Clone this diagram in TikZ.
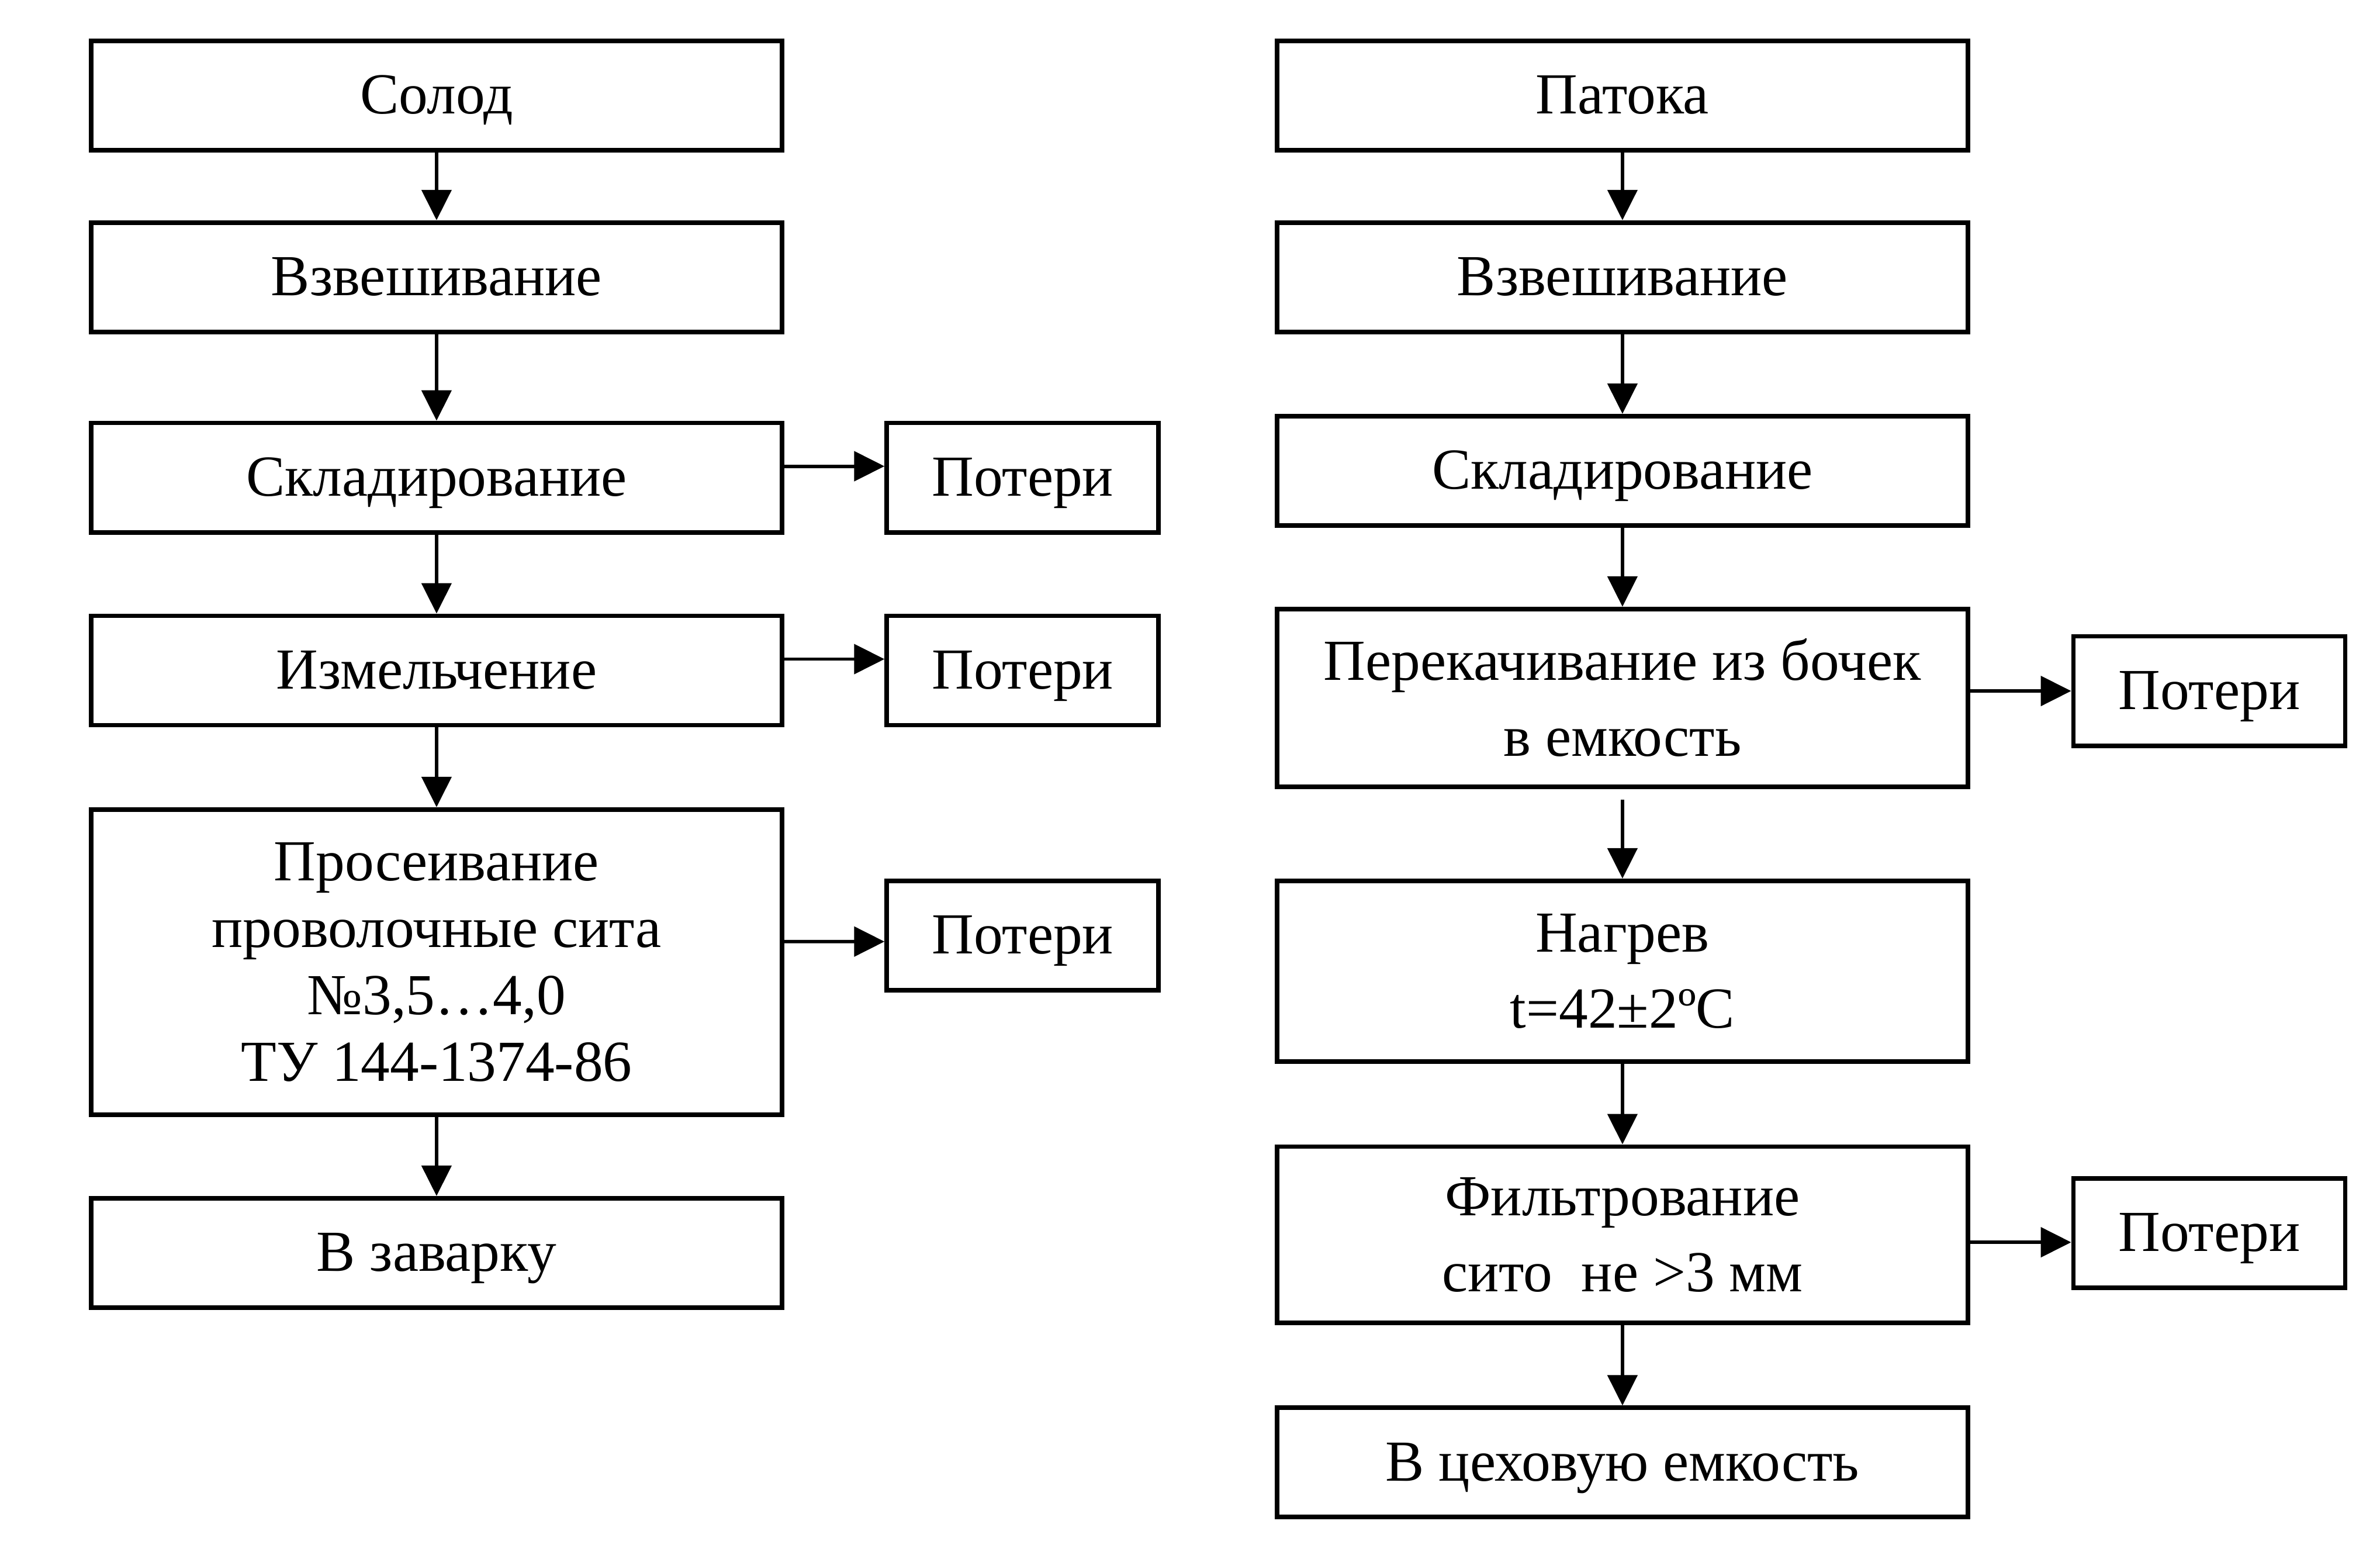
\documentclass[tikz,border=0pt]{standalone}
\usepackage{fontspec}
\setmainfont{Liberation Serif}
\usetikzlibrary{arrows.meta}

\begin{document}
\begin{tikzpicture}[x=0.4pt,y=-0.4pt,
    box/.style={draw, line width=1.2pt, minimum width=182pt, minimum height=28.8pt,
      inner sep=0pt, align=center, font=\fontsize{15.3}{20}\selectfont},
    oneline/.style={box, text height=10.4pt, text depth=0.8pt},
    loss/.style={oneline, minimum width=71.6pt},
    arr/.style={line width=0.9pt, -{Triangle[length=8pt,width=7.8pt]}}]
    \useasboundingbox (0,0) rectangle (1567.4,1021.6);

    % draw left column
    \node[oneline] (solod) at (287.5,63) {Солод};
    \node[oneline] (vzv1) at (287.5,182.5) {Взвешивание};
    \node[oneline] (skl1) at (287.5,314.5) {Складирование};
    \node[oneline] (izm) at (287.5,441.5) {Измельчение};
    \node[box, minimum height=80.4pt, font=\fontsize{15.3}{17.6}\selectfont] (pros) at (287.5,633.5)
      {Просеивание\\проволочные сита\\№3,5…4,0\\ТУ 144-1374-86};
    \node[oneline] (zav) at (287.5,825) {В заварку};

    % draw losses left
    \node[loss] (pot1) at (673.5,314.5) {Потери};
    \node[loss] (pot2) at (673.5,441.5) {Потери};
    \node[loss] (pot3) at (673.5,616) {Потери};

    % draw right column
    \node[oneline] (patoka) at (1068.5,63) {Патока};
    \node[oneline] (vzv2) at (1068.5,182.5) {Взвешивание};
    \node[oneline] (skl2) at (1068.5,310) {Складирование};
    \node[box, minimum height=46.8pt] (perek) at (1068.5,459.5) {Перекачивание из бочек\\в емкость};
    \node[box, minimum height=47.6pt] (nagr) at (1068.5,639.5) {Нагрев\\t=42±2ºC};
    \node[box, minimum height=46.4pt] (filtr) at (1068.5,813) {Фильтрование\\сито\ \ не >3 мм};
    \node[oneline] (ceh) at (1068.5,963) {В цеховую емкость};

    % draw losses right
    \node[loss] (pot4) at (1455,455) {Потери};
    \node[loss] (pot5) at (1455,812) {Потери};

    % draw vertical arrows
    \foreach \a/\b in {solod/vzv1, vzv1/skl1, skl1/izm, izm/pros, pros/zav,
                       patoka/vzv2, vzv2/skl2, skl2/perek, nagr/filtr, filtr/ceh}
    \draw[arr] (\a) -- (\b);
    \draw[arr, shorten <=2.8pt] (perek) -- (nagr);

    % draw arrows to losses
    \draw[arr] ([yshift=3pt]skl1.east) -- ([yshift=3pt]pot1.west);
    \draw[arr] ([yshift=3pt]izm.east) -- ([yshift=3pt]pot2.west);
    \draw[arr] (pros.east |- pot3.west) ++(0,4) -- ([yshift=-1.6pt]pot3.west);
    \draw[arr] (perek.east |- pot4.west) -- (pot4.west);
    \draw[arr] ([yshift=-2.4pt]filtr.east |- pot5.west) -- ([yshift=-2.4pt]pot5.west);
\end{tikzpicture}
\end{document}
